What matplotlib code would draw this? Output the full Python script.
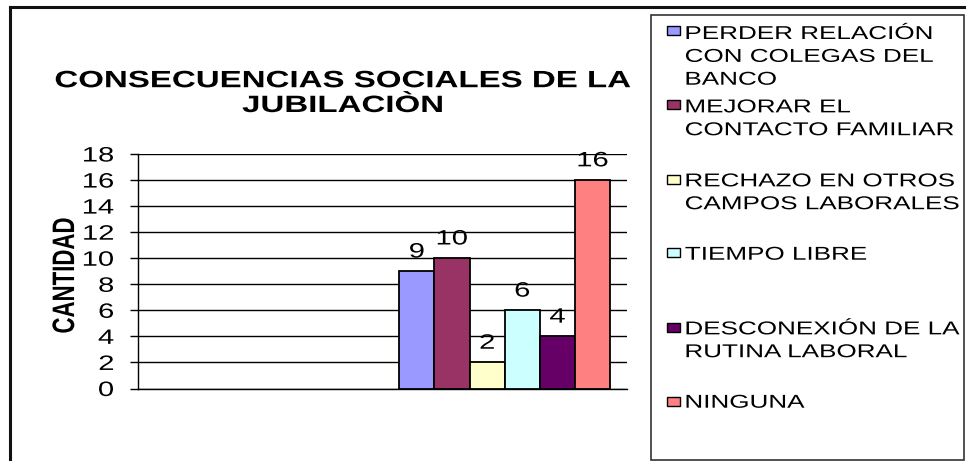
import matplotlib
matplotlib.use("Agg")
import matplotlib.pyplot as plt
from matplotlib.patches import Rectangle
from matplotlib.lines import Line2D
from matplotlib.patheffects import AbstractPathEffect
from matplotlib.transforms import Affine2D

plt.rcParams['font.family'] = ['Liberation Sans', 'DejaVu Sans']

title = 'CONSECUENCIAS SOCIALES DE LA\nJUBILACIÒN'
y_label = 'CANTIDAD'
categories = [
    'PERDER RELACIÓN\nCON COLEGAS DEL\nBANCO',
    'MEJORAR EL\nCONTACTO FAMILIAR',
    'RECHAZO EN OTROS\nCAMPOS LABORALES',
    'TIEMPO LIBRE',
    'DESCONEXIÓN DE LA\nRUTINA LABORAL',
    'NINGUNA',
]
values = [9, 10, 2, 6, 4, 16]
colors = ['#9999FF', '#993366', '#FFFFCC', '#CCFFFF', '#660066', '#FF8080']
y_ticks = [0, 2, 4, 6, 8, 10, 12, 14, 16, 18]

W, H = 966, 461
STRETCH = 1.4  # the source image is widened horizontally


class Widen(AbstractPathEffect):
    """stretch drawn text horizontally around its left / center / right edge"""

    def __init__(self, sx=STRETCH, anchor='center'):
        super().__init__()
        self.sx = sx
        self.anchor = anchor

    def draw_path(self, renderer, gc, tpath, affine, rgbFace=None):
        ext = affine.transform_path(tpath).get_extents()
        ax0 = {'left': ext.x0, 'center': (ext.x0 + ext.x1) / 2, 'right': ext.x1}[self.anchor]
        t = affine + Affine2D().translate(-ax0, 0).scale(self.sx, 1).translate(ax0, 0)
        renderer.draw_path(gc, tpath, t, rgbFace)


def fx(x):
    return x / W


def fy(y):
    return 1 - y / H


fig = plt.figure(figsize=(W / 100, H / 100), dpi=100)
ax = fig.add_axes([fx(138), fy(388.5), fx(627) - fx(138), fy(154) - fy(388.5)])

# one group of bars, sitting in the second of two category slots
n = len(values)
width = 0.1438
xs = [1 + (i - (n - 1) / 2) * width for i in range(n)]
bars = ax.bar(xs, values, width=width, color=colors, edgecolor='black', linewidth=1.3, zorder=3)
ax.set_xlim(-0.5, 1.5)
ax.set_ylim(0, 18)
ax.set_yticks(y_ticks)
ax.set_xticks([])
ax.grid(axis='y', color='black', linewidth=1.0)
ax.set_axisbelow(True)
for side in ['top', 'right']:
    ax.spines[side].set_visible(False)
for side in ['left', 'bottom']:
    ax.spines[side].set_linewidth(1.0)
ax.tick_params(axis='y', length=5.8, width=1.0, pad=11.5, labelsize=15)
for lab in ax.get_yticklabels():
    lab.set_path_effects([Widen(anchor='right')])

ax.set_ylabel(y_label, fontsize=16, fontweight='bold', va='center',
              path_effects=[Widen(anchor='center')])
ax.yaxis.set_label_coords((65.5 - 138) / 489, 0.482)

for t in ax.bar_label(bars, labels=[str(v) for v in values], padding=7, fontsize=15):
    t.set_path_effects([Widen(anchor='center')])

# baseline alignment of multi-line text anchors the last line
fig.text(fx(343), fy(112), title, ha='center', va='baseline', fontsize=17,
         fontweight='bold', linespacing=1.1, path_effects=[Widen(anchor='center')])

# outer chart frame (only left and top edges are inside the picture)
fig.add_artist(Line2D([fx(10), fx(10)], [fy(7), 0], color='#111111', linewidth=2.2))
fig.add_artist(Line2D([fx(10), 1], [fy(7), fy(7)], color='#111111', linewidth=2.2))

# legend box
fig.add_artist(Rectangle((fx(651), fy(460)), fx(964) - fx(651), fy(15) - fy(460),
                         facecolor='white', edgecolor='#333333', linewidth=1.2))
line_step = 23.5
for i, (lab, col) in enumerate(zip(categories, colors)):
    cy = 31 + 74 * i
    n_lines = lab.count('\n')
    fig.add_artist(Rectangle((fx(667), fy(cy + 4.5)), fx(13), 9 / H,
                             facecolor=col, edgecolor='black', linewidth=1.0))
    fig.text(fx(685), fy(cy + 6.7 + n_lines * line_step), lab, ha='left', va='baseline',
             fontsize=13.4, linespacing=1.45, path_effects=[Widen(anchor='left')])

fig.savefig('out.png', dpi=100, facecolor='white')
